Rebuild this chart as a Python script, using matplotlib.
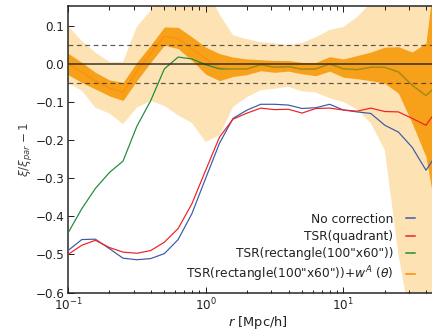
import numpy as np
import matplotlib
matplotlib.use("Agg")
import matplotlib.pyplot as plt
from matplotlib.lines import Line2D

# bin centres (r in Mpc/h)
r = [0.1, 0.126, 0.158, 0.2, 0.251, 0.316, 0.398, 0.501, 0.631, 0.794,
     1.0, 1.26, 1.58, 2.0, 2.51, 3.16, 3.98, 5.01, 6.31, 7.94,
     10.0, 12.6, 15.8, 20.0, 25.1, 31.6, 39.8, 50.1]

no_corr = [-0.49, -0.461, -0.46, -0.485, -0.51, -0.514, -0.511, -0.498, -0.461, -0.393,
           -0.30, -0.208, -0.143, -0.121, -0.106, -0.106, -0.108, -0.117, -0.115, -0.106,
           -0.121, -0.126, -0.13, -0.161, -0.179, -0.219, -0.279, -0.225]

tsr_quad = [-0.50, -0.476, -0.463, -0.482, -0.494, -0.497, -0.49, -0.468, -0.432, -0.367,
            -0.279, -0.192, -0.145, -0.129, -0.116, -0.12, -0.119, -0.129, -0.117, -0.116,
            -0.121, -0.124, -0.116, -0.125, -0.126, -0.143, -0.161, -0.11]

tsr_rect = [-0.444, -0.38, -0.327, -0.285, -0.255, -0.164, -0.097, -0.013, 0.018, 0.013,
            -0.002, -0.013, -0.013, -0.013, -0.002, -0.009, -0.007, -0.014, -0.013, 0.0,
            -0.013, -0.015, -0.009, -0.009, -0.021, -0.056, -0.083, -0.05]

tsr_rect_w = [0.0, -0.022, -0.044, -0.064, -0.075, -0.019, 0.027, 0.073, 0.066, 0.04,
              0.013, -0.009, -0.013, -0.013, -0.002, -0.009, -0.007, -0.014, -0.013, 0.0,
              -0.013, -0.015, -0.009, -0.009, -0.021, -0.056, -0.083, -0.05]

inner_hi = [0.028, 0.004, -0.022, -0.042, -0.049, 0.004, 0.049, 0.097, 0.096, 0.071,
            0.044, 0.027, 0.018, 0.013, 0.011, 0.009, 0.009, 0.004, 0.004, 0.019,
            0.013, 0.022, 0.031, 0.044, 0.045, 0.031, 0.055, 0.35]
inner_lo = [-0.028, -0.049, -0.066, -0.084, -0.096, -0.044, 0.004, 0.049, 0.04, 0.009,
            -0.027, -0.044, -0.033, -0.028, -0.018, -0.022, -0.019, -0.026, -0.031, -0.019,
            -0.035, -0.039, -0.044, -0.051, -0.077, -0.156, -0.244, -0.45]

outer_hi = [0.10, 0.06, 0.03, 0.005, 0.005, 0.097, 0.14, 0.2, 0.22, 0.22,
            0.2, 0.13, 0.075, 0.065, 0.057, 0.054, 0.05, 0.055, 0.07, 0.089,
            0.097, 0.123, 0.16, 0.2, 0.25, 0.3, 0.35, 0.4]
outer_lo = [-0.05, -0.07, -0.115, -0.13, -0.158, -0.115, -0.097, -0.11, -0.135, -0.155,
            -0.205, -0.187, -0.113, -0.087, -0.069, -0.065, -0.06, -0.072, -0.075, -0.09,
            -0.1, -0.12, -0.155, -0.227, -0.5, -0.7, -0.9, -1.0]

labels = ['No correction', 'TSR(quadrant)', 'TSR(rectangle(100"x60"))',
          r'TSR(rectangle(100"x60"))+$w^A\ (\theta)$']
colors = ['#3c5aa8', '#ee2222', '#1f8a3a', '#ff8800']

yticks = [-0.6, -0.5, -0.4, -0.3, -0.2, -0.1, 0.0, 0.1]

fig = plt.figure(figsize=(6.0, 331 / 72), dpi=72)
ax = fig.add_axes([68 / 432, 38.5 / 331, 380 / 432, 286.5 / 331])
ax.set_xscale('log')

ax.fill_between(r, outer_lo, outer_hi, color='#fde2b4', lw=0, zorder=1)
ax.fill_between(r, inner_lo, inner_hi, color='#f7a11a', lw=0, zorder=2)

ax.plot(r, no_corr, color=colors[0], lw=1.2, zorder=3)
ax.plot(r, tsr_quad, color=colors[1], lw=1.2, zorder=3)
ax.plot(r, tsr_rect, color=colors[2], lw=1.2, zorder=3)
ax.plot(r, tsr_rect_w, color=colors[3], lw=1.5, alpha=0.6, zorder=4)

ax.axhline(0.0, color='#2a2418', lw=2.0, alpha=0.7, zorder=5)
ax.axhline(0.05, color='#333333', lw=1.2, ls=(0, (4, 3)), alpha=0.8, zorder=5)
ax.axhline(-0.05, color='#333333', lw=1.2, ls=(0, (4, 3)), alpha=0.8, zorder=5)

ax.set_xlim(0.1, 57.5)
ax.set_ylim(-0.6, 0.152)
ax.set_yticks(yticks)
ax.set_yticklabels([('\u2212%.1f' % abs(v)) if v < 0 else '%.1f' % v for v in yticks])

ax.tick_params(which='both', direction='in', top=True, right=True, labelsize=12,
               colors='#222222', width=1.0)
ax.tick_params(which='major', length=6)
ax.tick_params(which='minor', length=3.5)
ax.tick_params(axis='x', pad=4)
for s in ax.spines.values():
    s.set_linewidth(1.5)
    s.set_color('#222222')

ax.set_xlabel(r'$r$ [Mpc/h]', fontsize=13, color='#222222', labelpad=1)
ax.set_ylabel(r'$\xi/\xi_{par}-1$', fontsize=12, color='#444444', labelpad=2)

handles = [Line2D([], [], color=c, lw=1.5) for c in colors]
leg = ax.legend(handles, labels, loc='lower right', frameon=False, markerfirst=False,
                fontsize=12.3, handlelength=0.75, handletextpad=1.0, labelspacing=0.35,
                borderaxespad=0.0, borderpad=0.4,
                bbox_to_anchor=(420 / 432, 42 / 331), bbox_transform=fig.transFigure)
for t in leg.get_texts():
    t.set_color('#222222')

fig.savefig('out.png', dpi=72)
